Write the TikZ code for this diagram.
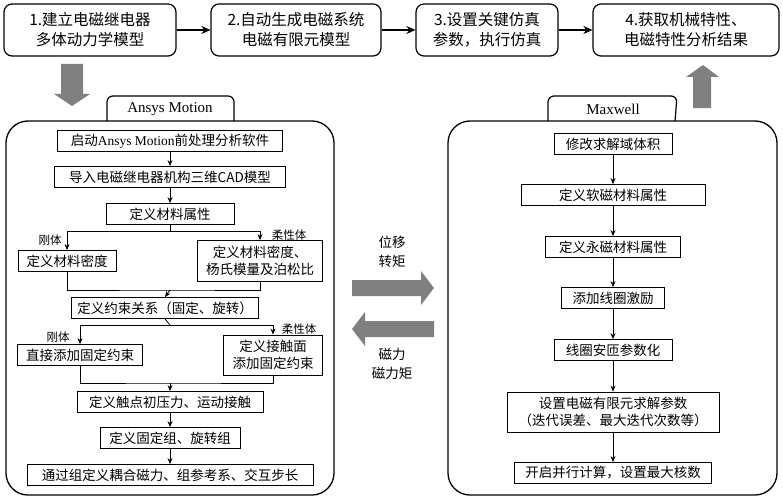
\documentclass[tikz,border=0pt]{standalone}
\usepackage{fontspec}
\setmainfont{Liberation Serif}
\newfontfamily\cjk{Noto Sans CJK SC}
\usetikzlibrary{arrows.meta}
\begin{document}
\begin{tikzpicture}[x=1pt,y=-1pt,
  box/.style={draw,line width=0.8pt,inner sep=0pt,align=center,font=\cjk\fontsize{13.5}{17}\selectfont},
  top/.style={draw,line width=1.2pt,rounded corners=8pt,inner sep=0pt,align=center,font=\cjk\fontsize{15.5}{20}\selectfont},
  lab/.style={font=\cjk\fontsize{11.5}{13}\selectfont,inner sep=0pt},
  mid/.style={font=\cjk\fontsize{13.5}{19}\selectfont,align=center,inner sep=0pt},
  ar/.style={-{Stealth[length=6pt,width=5pt]},line width=0.8pt},
  tar/.style={-{Stealth[length=9pt,width=8pt]},line width=1.5pt},
  fat/.style={fill={rgb,255:red,128;green,128;blue,128},draw=none},
  frame/.style={line width=1.3pt,rounded corners=22pt}]
\useasboundingbox (0,0) rectangle (783,500);
% top row
\node[top,minimum width=172,minimum height=52] (t1) at (90,30) {1.建立电磁继电器\\多体动力学模型};
\node[top,minimum width=170,minimum height=52] (t2) at (296,30) {2.自动生成电磁系统\\电磁有限元模型};
\node[top,minimum width=142,minimum height=52] (t3) at (487,30) {3.设置关键仿真\\参数，执行仿真};
\node[top,minimum width=186,minimum height=52] (t4) at (686,30) {4.获取机械特性、\\电磁特性分析结果};
\draw[tar] (t1) -- (t2);
\draw[tar] (t2) -- (t3);
\draw[tar] (t3) -- (t4);
% gray arrows
\fill[fat] (61,64) -- (83,64) -- (83,94) -- (90,94) -- (72,106) -- (54,94) -- (61,94) -- cycle;
\fill[fat] (693,108) -- (711,108) -- (711,77) -- (719,77) -- (703,65) -- (686,77) -- (693,77) -- cycle;
\fill[fat] (352,280) -- (421,280) -- (421,271) -- (434,288) -- (421,305) -- (421,296) -- (352,296) -- cycle;
\fill[fat] (434,321) -- (365,321) -- (365,312) -- (352,329) -- (365,346) -- (365,337) -- (434,337) -- cycle;
% frames and tabs
\draw[line width=1.2pt,rounded corners=6pt,fill=white] (107,121) -- (107,96) -- (234,96) -- (234,121);
\node[font=\fontsize{15}{18}\selectfont] (tabA) at (170,109) {Ansys Motion};
\draw[frame] (6,121) rectangle (334,495);
\draw[line width=1.2pt,rounded corners=6pt] (548,121) -- (548,96) -- (677,96) -- (675,121);
\node[font=\fontsize{15}{18}\selectfont] (tabM) at (613,109) {Maxwell};
\draw[frame] (448,121) rectangle (777,495);
% Ansys boxes
\node[box,minimum width=225,minimum height=21] (a1) at (170,141) {启动{\rmfamily Ansys Motion}前处理分析软件};
\node[box,minimum width=231,minimum height=21] (a2) at (170,177) {导入电磁继电器机构三维CAD模型};
\node[box,minimum width=128,minimum height=21] (a3) at (170,214) {定义材料属性};
\node[box,minimum width=98,minimum height=21] (a4) at (67,261) {定义材料密度};
\node[box,minimum width=125,minimum height=41] (a5) at (260,261) {定义材料密度、\\杨氏模量及泊松比};
\node[box,minimum width=187,minimum height=21] (a6) at (165,308) {定义约束关系（固定、旋转）};
\node[box,minimum width=125,minimum height=21] (a7) at (80,355) {直接添加固定约束};
\node[box,minimum width=99,minimum height=40] (a8) at (273,355) {定义接触面\\添加固定约束};
\node[box,minimum width=186,minimum height=21] (a9) at (170,402) {定义触点初压力、运动接触};
\node[box,minimum width=140,minimum height=21] (a10) at (170,438) {定义固定组、旋转组};
\node[box,minimum width=286,minimum height=21] (a11) at (170,475) {通过组定义耦合磁力、组参考系、交互步长};
\draw[ar] (a1) -- (a2);
\draw[ar] (a2) -- (a3);
\coordinate (s1) at (170,231);
\draw[line width=0.8pt] (a3.south) -- (s1);
\draw[ar] (s1) -| (a4.north);
\draw[ar] (s1) -| (a5.north);
\node[lab] (l1) at (50,240) {刚体};
\node[lab] (l2) at (289,235) {柔性体};
\coordinate (m1) at (170,290);
\draw[line width=0.8pt] (a4.south) |- (m1) -| (a5.south);
\draw[ar] (m1) -- (a6.north);
\coordinate (s2) at (170,325);
\draw[line width=0.8pt] (a6.south) -- (s2);
\draw[ar] (s2) -| (a7.north);
\draw[ar] (s2) -| (a8.north);
\node[lab] (l3) at (58,337) {刚体};
\node[lab] (l4) at (299,329) {柔性体};
\coordinate (m2) at (170,383);
\draw[line width=0.8pt] (a7.south) |- (m2) -| (a8.south);
\draw[ar] (m2) -- (a9.north);
\draw[ar] (a9) -- (a10);
\draw[ar] (a10) -- (a11);
% Maxwell boxes
\node[box,minimum width=118,minimum height=21] (b1) at (613,144) {修改求解域体积};
\node[box,minimum width=184,minimum height=21] (b2) at (613,195) {定义软磁材料属性};
\node[box,minimum width=135,minimum height=21] (b3) at (613,247) {定义永磁材料属性};
\node[box,minimum width=103,minimum height=21] (b4) at (613,298) {添加线圈激励};
\node[box,minimum width=118,minimum height=21] (b5) at (613,350) {线圈安匝参数化};
\node[box,minimum width=212,minimum height=40] (b6) at (613,412) {设置电磁有限元求解参数\\（迭代误差、最大迭代次数等）};
\node[box,minimum width=197,minimum height=21] (b7) at (613,473) {开启并行计算，设置最大核数};
\draw[ar] (b1) -- (b2);
\draw[ar] (b2) -- (b3);
\draw[ar] (b3) -- (b4);
\draw[ar] (b4) -- (b5);
\draw[ar] (b5) -- (b6);
\draw[ar] (b6) -- (b7);
% middle labels
\node[mid] (ml1) at (392,252) {位移\\转矩};
\node[mid] (ml2) at (392,364) {磁力\\磁力矩};
\end{tikzpicture}
\end{document}
